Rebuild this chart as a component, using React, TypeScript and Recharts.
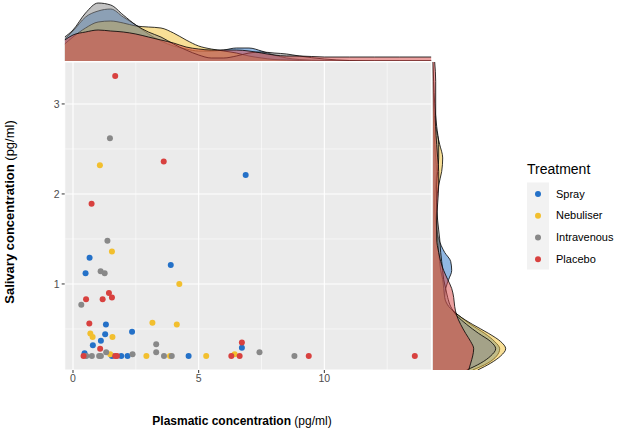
import {
  Area,
  AreaChart,
  CartesianGrid,
  ReferenceLine,
  Scatter,
  ScatterChart,
  XAxis,
  YAxis,
} from "recharts";

// Treatment groups, drawn in this order (Placebo ends up on top).
const treatments = ["Spray", "Nebuliser", "Intravenous", "Placebo"];
const keys = ["spray", "nebuliser", "intravenous", "placebo"];
const colors = ["#2471C8", "#F2BF2E", "#888888", "#D8413F"];

// [plasmatic, salivary] in pg/ml
const sprayPoints = [
  [0.46, 0.23], [1.55, 0.2], [1.92, 0.2], [2.17, 0.2], [1.31, 0.55],
  [1.28, 0.44], [2.35, 0.47], [1.11, 0.37], [0.79, 0.32], [4.6, 0.2],
  [6.72, 0.29], [0.66, 1.29], [3.89, 1.21], [0.5, 1.12], [6.87, 2.21],
];
const nebuliserPoints = [
  [1.48, 0.22], [2.92, 0.2], [3.86, 0.2], [0.69, 0.45], [0.78, 0.41],
  [1.57, 0.41], [3.16, 0.57], [4.13, 0.55], [5.3, 0.2], [6.43, 0.22],
  [1.55, 1.36], [4.23, 1.0], [1.07, 2.32],
];
const intravenousPoints = [
  [0.53, 0.2], [0.75, 0.2], [1.04, 0.2], [1.11, 0.2], [1.32, 0.24],
  [2.37, 0.22], [3.31, 0.24], [3.31, 0.33], [3.62, 0.2], [3.93, 0.2],
  [0.33, 0.77], [7.42, 0.24], [8.81, 0.2], [1.37, 1.48], [1.1, 1.14],
  [1.26, 1.12], [1.47, 2.62],
];
const placeboPoints = [
  [0.42, 0.2], [1.68, 0.2], [1.75, 0.2], [0.65, 0.56], [1.08, 0.28],
  [6.3, 0.2], [6.63, 0.2], [6.72, 0.35], [9.38, 0.2], [13.6, 0.2],
  [1.43, 0.9], [1.55, 0.85], [0.52, 0.83], [1.18, 0.83], [1.68, 3.31],
  [3.61, 2.36], [0.74, 1.89],
];
const pointSets = [sprayPoints, nebuliserPoints, intravenousPoints, placeboPoints];

const topX = [-0.33, 0, 0.5, 1, 1.5, 2, 2.5, 3, 3.5, 4, 4.5, 5, 5.5, 6, 6.5, 7, 7.5, 8, 8.5, 9, 10, 11, 12, 13, 14.26];
const topSpray = [22, 30, 44, 50, 52, 44, 36, 27, 20, 15, 12, 10, 10, 11, 13, 13, 10, 6, 3, 1.5, 0.5, 0.2, 0, 0, 0];
const topNebuliser = [17, 24, 33, 39, 40, 38, 35, 34, 33, 28, 21, 15, 12, 10, 8, 5, 3, 1.5, 1, 0.5, 0, 0, 0, 0, 0];
const topIntravenous = [24, 31, 48, 58, 56, 46, 36, 29, 24, 17, 11, 6, 3, 3, 5, 8, 9, 8, 7, 5, 2, 0.5, 0, 0, 0];
const topPlacebo = [21, 26, 29, 31, 30, 29, 27, 24, 21, 18, 14, 12, 11, 11, 11, 10, 8, 6, 5, 5, 4, 4, 4, 4, 4];

// right margin: density heights along salivary concentration
const rightY = [0.044, 0.12, 0.2, 0.28, 0.36, 0.45, 0.55, 0.65, 0.75, 0.85, 0.95, 1.05, 1.15, 1.25, 1.35, 1.5, 1.7, 1.9, 2.1, 2.25, 2.4, 2.55, 2.75, 3.0, 3.25, 3.466];
const rightSpray = [40, 55, 64, 67, 62, 52, 38, 26, 16, 12, 13, 16, 19, 18, 12, 6, 3, 2, 3, 4, 3, 2, 1, 0.5, 0.2, 0];
const rightNebuliser = [45, 58, 68, 73, 68, 56, 40, 26, 16, 12, 11, 10, 8, 7, 6, 5, 4, 4, 6, 9, 10, 7, 3, 1, 0.5, 0];
const rightIntravenous = [34, 48, 58, 63, 58, 46, 34, 24, 18, 15, 13, 11, 10, 9, 8, 7, 5, 4, 4, 5, 6, 6, 4, 2, 1, 0];
const rightPlacebo = [36, 38, 40, 41, 38, 33, 28, 24, 22, 21, 19, 15, 11, 8, 6, 4, 4, 5, 6, 6, 5, 4, 3, 3, 3, 2];

const xTicks = [0, 5, 10];
const yTicks = [1, 2, 3];
const xMinor = [2.5, 7.5, 12.5];
const yMinor = [0.5, 1.5, 2.5];

const X_DOMAIN: [number, number] = [-0.33, 14.26];
const Y_DOMAIN: [number, number] = [0.044, 3.466];
const FONT = "'Liberation Sans', Arial, Helvetica, sans-serif";

const topData = topX.map((x, i) => ({
  x,
  spray: topSpray[i],
  nebuliser: topNebuliser[i],
  intravenous: topIntravenous[i],
  placebo: topPlacebo[i],
}));

const rightData = rightY.map((y, i) => ({
  y,
  spray: rightSpray[i],
  nebuliser: rightNebuliser[i],
  intravenous: rightIntravenous[i],
  placebo: rightPlacebo[i],
}));

const Dot = (props: any) => (
  <circle cx={props.cx} cy={props.cy} r={3} fill={props.fill} />
);

export default function App() {
  const tick = { fill: "#4D4D4D", fontSize: 10.5, fontFamily: FONT };
  return (
    <div
      style={{
        position: "absolute",
        left: 0,
        top: 0,
        width: 617,
        height: 431,
        background: "#fff",
        fontFamily: FONT,
      }}
    >
      {/* top marginal density */}
      <div style={{ position: "absolute", left: 0, top: 0 }}>
        <AreaChart width={617} height={62} data={topData} margin={{ top: 0, right: 185.6, bottom: 1, left: 64.7 }}>
          <XAxis type="number" dataKey="x" domain={X_DOMAIN} hide allowDataOverflow />
          <YAxis type="number" domain={[0, 61]} hide allowDataOverflow />
          {keys.map((k, i) => (
            <Area
              key={k}
              type="monotone"
              dataKey={k}
              stroke="#000"
              strokeWidth={0.8}
              fill={colors[i]}
              fillOpacity={0.5}
              dot={false}
              activeDot={false}
              isAnimationActive={false}
            />
          ))}
        </AreaChart>
      </div>

      {/* right marginal density */}
      <div style={{ position: "absolute", left: 0, top: 0 }}>
        <AreaChart
          width={617}
          height={431}
          data={rightData}
          layout="vertical"
          margin={{ top: 62, right: 84.3, bottom: 61, left: 432.7 }}
        >
          <XAxis type="number" domain={[0, 100]} hide allowDataOverflow />
          <YAxis type="number" dataKey="y" domain={Y_DOMAIN} hide allowDataOverflow reversed />
          {keys.map((k, i) => (
            <Area
              key={k}
              type="monotone"
              dataKey={k}
              stroke="#000"
              strokeWidth={0.8}
              fill={colors[i]}
              fillOpacity={0.5}
              dot={false}
              activeDot={false}
              isAnimationActive={false}
            />
          ))}
        </AreaChart>
      </div>

      {/* scatter */}
      <div style={{ position: "absolute", left: 0, top: 0 }}>
        <ScatterChart width={617} height={431} margin={{ top: 62, right: 185.6, bottom: 41, left: 44.7 }}>
          <CartesianGrid fill="#EBEBEB" stroke="#FFFFFF" strokeWidth={1.1} />
          {xMinor.map((v) => (
            <ReferenceLine key={`x${v}`} x={v} stroke="#FFFFFF" strokeWidth={0.55} />
          ))}
          {yMinor.map((v) => (
            <ReferenceLine key={`y${v}`} y={v} stroke="#FFFFFF" strokeWidth={0.55} />
          ))}
          <XAxis
            type="number"
            dataKey="x"
            domain={X_DOMAIN}
            ticks={xTicks}
            height={20}
            tickSize={3}
            tickLine={{ stroke: "#333333" }}
            axisLine={false}
            tick={tick}
            allowDataOverflow
          />
          <YAxis
            type="number"
            dataKey="y"
            domain={Y_DOMAIN}
            ticks={yTicks}
            width={20}
            tickSize={3}
            tickLine={{ stroke: "#333333" }}
            axisLine={false}
            tick={tick}
            allowDataOverflow
          />
          {pointSets.map((pts, i) => (
            <Scatter
              key={treatments[i]}
              name={treatments[i]}
              data={pts.map(([x, y]) => ({ x, y }))}
              fill={colors[i]}
              shape={Dot}
              isAnimationActive={false}
            />
          ))}
        </ScatterChart>
      </div>

      {/* axis titles and legend */}
      <svg
        width={617}
        height={431}
        style={{ position: "absolute", left: 0, top: 0, pointerEvents: "none" }}
        fontFamily={FONT}
      >
        <text x={242} y={425} textAnchor="middle" fontSize={12} fill="#000">
          <tspan fontWeight="bold">Plasmatic concentration</tspan>
          <tspan> (pg/ml)</tspan>
        </text>
        <text
          x={14}
          y={212}
          textAnchor="middle"
          fontSize={13}
          fill="#000"
          transform="rotate(-90 14 212)"
        >
          <tspan fontWeight="bold">Salivary concentration</tspan>
          <tspan> (pg/ml)</tspan>
        </text>

        <text x={527} y={174} fontSize={14} fill="#000">
          Treatment
        </text>
        <rect x={527} y={182.5} width={22} height={87} fill="#F2F2F2" />
        {treatments.map((t, i) => (
          <g key={t}>
            <circle cx={538} cy={193.9 + i * 21.75} r={3} fill={colors[i]} />
            <text x={556} y={193.9 + i * 21.75 + 3.8} fontSize={11} fill="#000">
              {t}
            </text>
          </g>
        ))}
      </svg>
    </div>
  );
}
